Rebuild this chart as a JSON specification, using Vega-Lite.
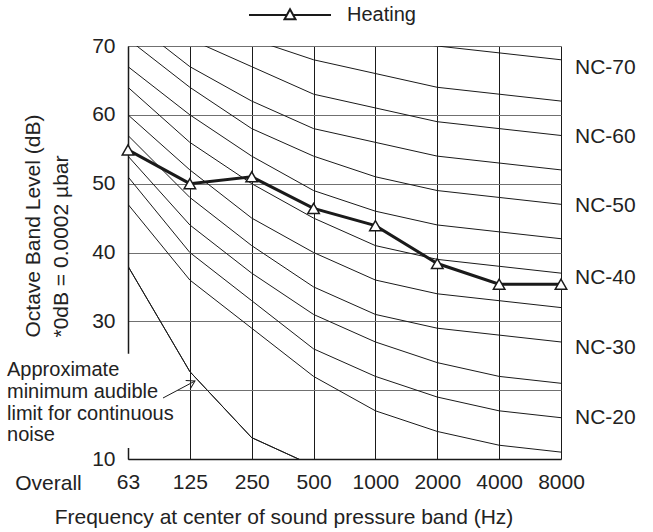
{
  "$schema": "https://vega.github.io/schema/vega-lite/v6.json",
  "width": 433,
  "height": 413,
  "autosize": {"type": "none"},
  "padding": {"left": 128, "top": 46, "right": 92, "bottom": 73},
  "background": "white",
  "config": {
    "view": {"stroke": null},
    "font": "Liberation Sans",
    "text": {"font": "Liberation Sans", "fontSize": 20, "color": "#222"}
  },
  "datasets": {
    "nc": [
      {"c": "NC-15", "i": 0, "db": 47}, {"c": "NC-15", "i": 1, "db": 36}, {"c": "NC-15", "i": 2, "db": 29}, {"c": "NC-15", "i": 3, "db": 22}, {"c": "NC-15", "i": 4, "db": 17}, {"c": "NC-15", "i": 5, "db": 14}, {"c": "NC-15", "i": 6, "db": 12}, {"c": "NC-15", "i": 7, "db": 11},
      {"c": "NC-20", "i": 0, "db": 51}, {"c": "NC-20", "i": 1, "db": 40}, {"c": "NC-20", "i": 2, "db": 33}, {"c": "NC-20", "i": 3, "db": 26}, {"c": "NC-20", "i": 4, "db": 22}, {"c": "NC-20", "i": 5, "db": 19}, {"c": "NC-20", "i": 6, "db": 17}, {"c": "NC-20", "i": 7, "db": 16},
      {"c": "NC-25", "i": 0, "db": 54}, {"c": "NC-25", "i": 1, "db": 44}, {"c": "NC-25", "i": 2, "db": 37}, {"c": "NC-25", "i": 3, "db": 31}, {"c": "NC-25", "i": 4, "db": 27}, {"c": "NC-25", "i": 5, "db": 24}, {"c": "NC-25", "i": 6, "db": 22}, {"c": "NC-25", "i": 7, "db": 21},
      {"c": "NC-30", "i": 0, "db": 57}, {"c": "NC-30", "i": 1, "db": 48}, {"c": "NC-30", "i": 2, "db": 41}, {"c": "NC-30", "i": 3, "db": 35}, {"c": "NC-30", "i": 4, "db": 31}, {"c": "NC-30", "i": 5, "db": 29}, {"c": "NC-30", "i": 6, "db": 28}, {"c": "NC-30", "i": 7, "db": 27},
      {"c": "NC-35", "i": 0, "db": 60}, {"c": "NC-35", "i": 1, "db": 52}, {"c": "NC-35", "i": 2, "db": 45}, {"c": "NC-35", "i": 3, "db": 40}, {"c": "NC-35", "i": 4, "db": 36}, {"c": "NC-35", "i": 5, "db": 34}, {"c": "NC-35", "i": 6, "db": 33}, {"c": "NC-35", "i": 7, "db": 32},
      {"c": "NC-40", "i": 0, "db": 64}, {"c": "NC-40", "i": 1, "db": 56}, {"c": "NC-40", "i": 2, "db": 50}, {"c": "NC-40", "i": 3, "db": 45}, {"c": "NC-40", "i": 4, "db": 41}, {"c": "NC-40", "i": 5, "db": 39}, {"c": "NC-40", "i": 6, "db": 38}, {"c": "NC-40", "i": 7, "db": 37},
      {"c": "NC-45", "i": 0, "db": 67}, {"c": "NC-45", "i": 1, "db": 60}, {"c": "NC-45", "i": 2, "db": 54}, {"c": "NC-45", "i": 3, "db": 49}, {"c": "NC-45", "i": 4, "db": 46}, {"c": "NC-45", "i": 5, "db": 44}, {"c": "NC-45", "i": 6, "db": 43}, {"c": "NC-45", "i": 7, "db": 42},
      {"c": "NC-50", "i": 0, "db": 71}, {"c": "NC-50", "i": 1, "db": 64}, {"c": "NC-50", "i": 2, "db": 58}, {"c": "NC-50", "i": 3, "db": 54}, {"c": "NC-50", "i": 4, "db": 51}, {"c": "NC-50", "i": 5, "db": 49}, {"c": "NC-50", "i": 6, "db": 48}, {"c": "NC-50", "i": 7, "db": 47},
      {"c": "NC-55", "i": 0, "db": 74}, {"c": "NC-55", "i": 1, "db": 67}, {"c": "NC-55", "i": 2, "db": 62}, {"c": "NC-55", "i": 3, "db": 58}, {"c": "NC-55", "i": 4, "db": 56}, {"c": "NC-55", "i": 5, "db": 54}, {"c": "NC-55", "i": 6, "db": 53}, {"c": "NC-55", "i": 7, "db": 52},
      {"c": "NC-60", "i": 0, "db": 77}, {"c": "NC-60", "i": 1, "db": 71}, {"c": "NC-60", "i": 2, "db": 67}, {"c": "NC-60", "i": 3, "db": 63}, {"c": "NC-60", "i": 4, "db": 61}, {"c": "NC-60", "i": 5, "db": 59}, {"c": "NC-60", "i": 6, "db": 58}, {"c": "NC-60", "i": 7, "db": 57},
      {"c": "NC-65", "i": 0, "db": 80}, {"c": "NC-65", "i": 1, "db": 75}, {"c": "NC-65", "i": 2, "db": 71}, {"c": "NC-65", "i": 3, "db": 68}, {"c": "NC-65", "i": 4, "db": 66}, {"c": "NC-65", "i": 5, "db": 64}, {"c": "NC-65", "i": 6, "db": 63}, {"c": "NC-65", "i": 7, "db": 62},
      {"c": "NC-70", "i": 0, "db": 83}, {"c": "NC-70", "i": 1, "db": 79}, {"c": "NC-70", "i": 2, "db": 75}, {"c": "NC-70", "i": 3, "db": 72}, {"c": "NC-70", "i": 4, "db": 71}, {"c": "NC-70", "i": 5, "db": 70}, {"c": "NC-70", "i": 6, "db": 69}, {"c": "NC-70", "i": 7, "db": 68},
      {"c": "min", "i": 0, "db": 38}, {"c": "min", "i": 1, "db": 22.7}, {"c": "min", "i": 2, "db": 13.1}, {"c": "min", "i": 3, "db": 9.0}
    ],
    "heating": [
      {"i": 0, "db": 54.9}, {"i": 1, "db": 50.0}, {"i": 2, "db": 51.0}, {"i": 3, "db": 46.4},
      {"i": 4, "db": 43.9}, {"i": 5, "db": 38.4}, {"i": 6, "db": 35.4}, {"i": 7, "db": 35.4}
    ],
    "labels": [
      {"lab": "NC-70", "db": 66.8}, {"lab": "NC-60", "db": 56.8}, {"lab": "NC-50", "db": 46.75},
      {"lab": "NC-40", "db": 36.3}, {"lab": "NC-30", "db": 26.1}, {"lab": "NC-20", "db": 15.95}
    ],
    "one": [{}]
  },
  "layer": [
    {
      "data": {"name": "nc"},
      "mark": {"type": "line", "clip": true, "color": "#1a1a1a", "strokeWidth": 1},
      "encoding": {
        "x": {
          "field": "i", "type": "quantitative",
          "scale": {"domain": [0, 7], "nice": false, "zero": false},
          "axis": {
            "values": [0, 1, 2, 3, 4, 5, 6, 7],
            "labelExpr": "['63','125','250','500','1000','2000','4000','8000'][datum.value]",
            "grid": true, "gridColor": "#1a1a1a", "gridWidth": 1, "gridOpacity": 1,
            "ticks": false, "domainColor": "#1a1a1a", "domainWidth": 1.5,
            "labelFont": "Liberation Sans", "labelFontSize": 21, "labelColor": "#222",
            "labelBaseline": "alphabetic", "labelPadding": 29, "labelFlush": false, "labelOverlap": false,
            "title": "Frequency at center of sound pressure band (Hz)",
            "titleFont": "Liberation Sans", "titleFontSize": 21, "titleFontWeight": "normal", "titleColor": "#222",
            "titleX": 155.5, "titleY": 64, "titleAlign": "center", "titleBaseline": "alphabetic", "titleAnchor": null
          }
        },
        "y": {
          "field": "db", "type": "quantitative",
          "scale": {"domain": [10, 70], "nice": false, "zero": false},
          "axis": {
            "values": [10, 20, 30, 40, 50, 60, 70],
            "labelExpr": "datum.value == 20 ? '' : datum.label",
            "grid": true, "gridColor": "#707070", "gridWidth": 1, "gridOpacity": 1,
            "ticks": false, "domainColor": "#1a1a1a", "domainWidth": 1.5,
            "labelFont": "Liberation Sans", "labelFontSize": 21, "labelColor": "#222",
            "labelPadding": 13, "labelFlush": false, "labelOverlap": false,
            "title": ["Octave   Band Level (dB)", "*0dB = 0.0002 µbar"],
            "titleFont": "Liberation Sans", "titleFontSize": 21, "titleFontWeight": "normal", "titleColor": "#222",
            "titleAngle": 270, "titleAlign": "left", "titleBaseline": "alphabetic", "titleLineHeight": 28,
            "titleX": -89, "titleY": 291, "titleAnchor": null
          }
        },
        "detail": {"field": "c", "type": "nominal"}
      }
    },
    {
      "data": {"name": "one"},
      "mark": {"type": "rect", "fill": "white", "clip": false},
      "encoding": {
        "x": {"datum": -2.1, "type": "quantitative"},
        "x2": {"datum": 0.8},
        "y": {"datum": 11.6, "type": "quantitative"},
        "y2": {"datum": 25.3}
      }
    },
    {
      "data": {"name": "nc"},
      "transform": [{"filter": "datum.c == 'min'"}],
      "mark": {"type": "line", "clip": true, "color": "#1a1a1a", "strokeWidth": 1},
      "encoding": {
        "x": {"field": "i", "type": "quantitative"},
        "y": {"field": "db", "type": "quantitative"}
      }
    },
    {
      "data": {"name": "heating"},
      "mark": {"type": "line", "strokeWidth": 3},
      "encoding": {
        "x": {"field": "i", "type": "quantitative"},
        "y": {"field": "db", "type": "quantitative"},
        "color": {
          "datum": "Heating", "type": "nominal",
          "scale": {"range": ["#1a1a1a"]},
          "legend": {
            "orient": "none", "legendX": 120, "legendY": -73, "title": null, "padding": 0,
            "symbolType": "M-1,0H-0.076M0.076,0H1M0,-0.139L0.134,0.105H-0.134Z",
            "symbolSize": 6724, "symbolStrokeWidth": 2, "symbolFillColor": "white",
            "labelFont": "Liberation Sans", "labelFontSize": 20, "labelColor": "#222", "labelOffset": 15,
            "encode": {"symbols": {"update": {"fill": {"value": "white"}, "stroke": {"value": "#1a1a1a"}, "strokeWidth": {"value": 2}}}}
          }
        }
      }
    },
    {
      "data": {"name": "heating"},
      "mark": {"type": "point", "shape": "triangle-up", "size": 132, "filled": true, "fill": "white", "stroke": "#1a1a1a", "strokeWidth": 1.5, "opacity": 1},
      "encoding": {
        "x": {"field": "i", "type": "quantitative"},
        "y": {"field": "db", "type": "quantitative"}
      }
    },
    {
      "data": {"name": "labels"},
      "mark": {"type": "text", "align": "left", "baseline": "middle", "dx": 14, "fontSize": 21},
      "encoding": {
        "x": {"datum": 7, "type": "quantitative"},
        "y": {"field": "db", "type": "quantitative"},
        "text": {"field": "lab"}
      }
    },
    {
      "data": {"name": "one"},
      "mark": {"type": "text", "align": "left", "baseline": "top", "fontSize": 20, "lineHeight": 21.7},
      "encoding": {
        "x": {"datum": -1.956, "type": "quantitative"},
        "y": {"datum": 24.35, "type": "quantitative"},
        "text": {"value": ["Approximate", "minimum audible", "limit for continuous", "noise"]}
      }
    },
    {
      "data": {"name": "one"},
      "mark": {"type": "rule", "color": "#1a1a1a", "strokeWidth": 1},
      "encoding": {
        "x": {"datum": 0.566, "type": "quantitative"},
        "y": {"datum": 18.86, "type": "quantitative"},
        "x2": {"datum": 1.083},
        "y2": {"datum": 21.33}
      }
    },
    {
      "data": {"name": "one"},
      "mark": {"type": "point", "shape": "M-1,-0.6L0,0L-1,0.6", "size": 256, "angle": -28, "filled": false, "stroke": "#1a1a1a", "strokeWidth": 1, "opacity": 1},
      "encoding": {
        "x": {"datum": 1.083, "type": "quantitative"},
        "y": {"datum": 21.33, "type": "quantitative"}
      }
    },
    {
      "data": {"name": "one"},
      "mark": {"type": "text", "align": "center", "baseline": "alphabetic", "dy": 31, "fontSize": 21},
      "encoding": {
        "x": {"datum": -1.285, "type": "quantitative"},
        "y": {"datum": 10, "type": "quantitative"},
        "text": {"value": "Overall"}
      }
    }
  ]
}
